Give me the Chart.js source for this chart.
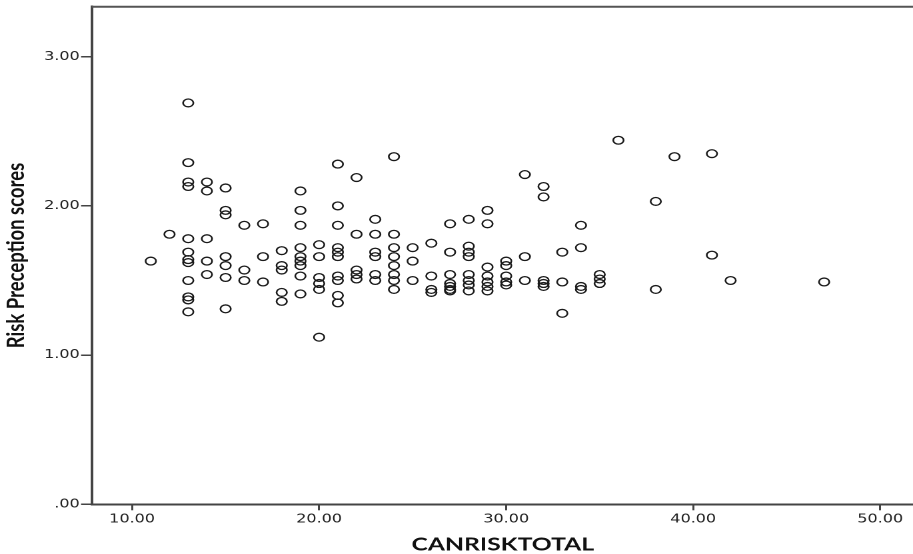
<!DOCTYPE html>
<html>
<head>
<meta charset="utf-8">
<script src="https://cdn.jsdelivr.net/npm/chart.js@4"></script>
<style>
  html, body { margin: 0; padding: 0; background: #fff; }
  #wrap { width: 913px; height: 554px; overflow: hidden; position: relative; }
  /* the original picture is stretched sideways (round markers look oval) */
  #stage { transform: scaleX(1.3328); transform-origin: 0 0; display: block; }
</style>
</head>
<body>
<div id="wrap"><canvas id="stage" width="691" height="554"></canvas></div>
<script>
// CANRISKTOTAL (x) and risk perception score (y), one entry per respondent
const canriskTotal = [
  11, 12,
  13, 13, 13, 13, 13, 13, 13, 13, 13, 13, 13, 13,
  14, 14, 14, 14, 14,
  15, 15, 15, 15, 15, 15, 15,
  16, 16, 16,
  17, 17, 17,
  18, 18, 18, 18, 18,
  19, 19, 19, 19, 19, 19, 19, 19, 19,
  20, 20, 20, 20, 20, 20,
  21, 21, 21, 21, 21, 21, 21, 21, 21, 21,
  22, 22, 22, 22, 22,
  23, 23, 23, 23, 23, 23,
  24, 24, 24, 24, 24, 24, 24, 24,
  25, 25, 25,
  26, 26, 26, 26,
  27, 27, 27, 27, 27, 27, 27,
  28, 28, 28, 28, 28, 28, 28, 28,
  29, 29, 29, 29, 29, 29, 29,
  30, 30, 30, 30, 30,
  31, 31, 31,
  32, 32, 32, 32, 32,
  33, 33, 33,
  34, 34, 34, 34,
  35, 35, 35,
  36,
  38, 38,
  39,
  41, 41,
  42,
  47
];
const riskScores = [
  1.63, 1.81,
  2.69, 2.29, 2.16, 2.13, 1.78, 1.69, 1.64, 1.62, 1.50, 1.39, 1.37, 1.29,
  2.16, 2.10, 1.78, 1.63, 1.54,
  2.12, 1.97, 1.94, 1.66, 1.60, 1.52, 1.31,
  1.87, 1.57, 1.50,
  1.88, 1.66, 1.49,
  1.70, 1.60, 1.57, 1.42, 1.36,
  2.10, 1.97, 1.87, 1.72, 1.66, 1.63, 1.60, 1.53, 1.41,
  1.74, 1.66, 1.52, 1.48, 1.44, 1.12,
  2.28, 2.00, 1.87, 1.72, 1.69, 1.66, 1.53, 1.50, 1.40, 1.35,
  2.19, 1.81, 1.57, 1.54, 1.51,
  1.91, 1.81, 1.69, 1.66, 1.54, 1.50,
  2.33, 1.81, 1.72, 1.66, 1.60, 1.54, 1.50, 1.44,
  1.72, 1.63, 1.50,
  1.75, 1.53, 1.44, 1.42,
  1.88, 1.69, 1.54, 1.48, 1.46, 1.44, 1.43,
  1.91, 1.73, 1.69, 1.66, 1.54, 1.50, 1.47, 1.43,
  1.97, 1.88, 1.59, 1.53, 1.49, 1.46, 1.43,
  1.63, 1.60, 1.53, 1.49, 1.47,
  2.21, 1.66, 1.50,
  2.13, 2.06, 1.50, 1.48, 1.46,
  1.69, 1.49, 1.28,
  1.87, 1.72, 1.46, 1.44,
  1.54, 1.51, 1.48,
  2.44,
  2.03, 1.44,
  2.33,
  2.35, 1.67,
  1.50,
  1.49
];

const xTicks = [10, 20, 30, 40, 50];
const yTicks = [0, 1, 2, 3];

const points = canriskTotal.map((v, i) => ({ x: v, y: riskScores[i] }));

const axisColor = '#444';
const tickFont = { family: 'DejaVu Sans', size: 12, lineHeight: 1 };
const titleFont = { family: 'Lato', size: 18.5, weight: 'bold', lineHeight: 1 };

// top edge of the frame (there is no right edge, it runs off the picture)
const frameTop = {
  id: 'frameTop',
  afterDraw(chart) {
    const { ctx, chartArea } = chart;
    ctx.save();
    ctx.strokeStyle = '#555';
    ctx.lineWidth = 2;
    ctx.beginPath();
    ctx.moveTo(chartArea.left, chartArea.top);
    ctx.lineTo(chartArea.right, chartArea.top);
    ctx.stroke();
    ctx.restore();
  }
};

const ctx = document.getElementById('stage').getContext('2d');
new Chart(ctx, {
  type: 'scatter',
  data: {
    datasets: [{
      label: 'Risk Preception scores',
      data: points,
      pointStyle: 'circle',
      pointRadius: 3.9,
      pointBorderWidth: 1.3,
      borderColor: '#1a1a1a',
      backgroundColor: 'rgba(0,0,0,0)'
    }]
  },
  options: {
    responsive: false,
    animation: false,
    devicePixelRatio: 2,
    layout: { padding: { top: 6.7, right: 0, bottom: 0, left: 0 } },
    plugins: {
      legend: { display: false },
      tooltip: { enabled: false }
    },
    scales: {
      x: {
        type: 'linear',
        min: 7.84,
        max: 51.8,
        afterBuildTicks: (s) => { s.ticks = xTicks.map(v => ({ value: v })); },
        afterFit: (s) => { s.height = 49.7; s.paddingLeft = 0; s.paddingRight = 0; },
        border: { display: true, color: axisColor, width: 2 },
        grid: { drawOnChartArea: false, drawTicks: true, tickLength: 6, color: axisColor, lineWidth: 1.5 },
        ticks: {
          padding: 3,
          color: '#222',
          font: tickFont,
          maxRotation: 0,
          callback: (v) => v.toFixed(2)
        },
        title: {
          display: true,
          text: 'CANRISKTOTAL',
          color: '#111',
          font: titleFont,
          padding: { top: 0, bottom: 0 }
        }
      },
      y: {
        type: 'linear',
        min: 0,
        max: 3.335,
        afterBuildTicks: (s) => { s.ticks = yTicks.map(v => ({ value: v })); },
        afterFit: (s) => { s.width = 68.8; s.paddingTop = 0; s.paddingBottom = 0; },
        border: { display: true, color: axisColor, width: 2 },
        grid: { drawOnChartArea: false, drawTicks: true, tickLength: 8, color: axisColor, lineWidth: 1.5 },
        ticks: {
          padding: 1,
          color: '#222',
          font: tickFont,
          callback: (v) => v === 0 ? '.00' : v.toFixed(2)
        },
        title: {
          display: true,
          text: 'Risk Preception scores',
          color: '#111',
          font: titleFont,
          padding: { top: 3, bottom: 0 }
        }
      }
    }
  },
  plugins: [frameTop]
});
</script>
</body>
</html>
